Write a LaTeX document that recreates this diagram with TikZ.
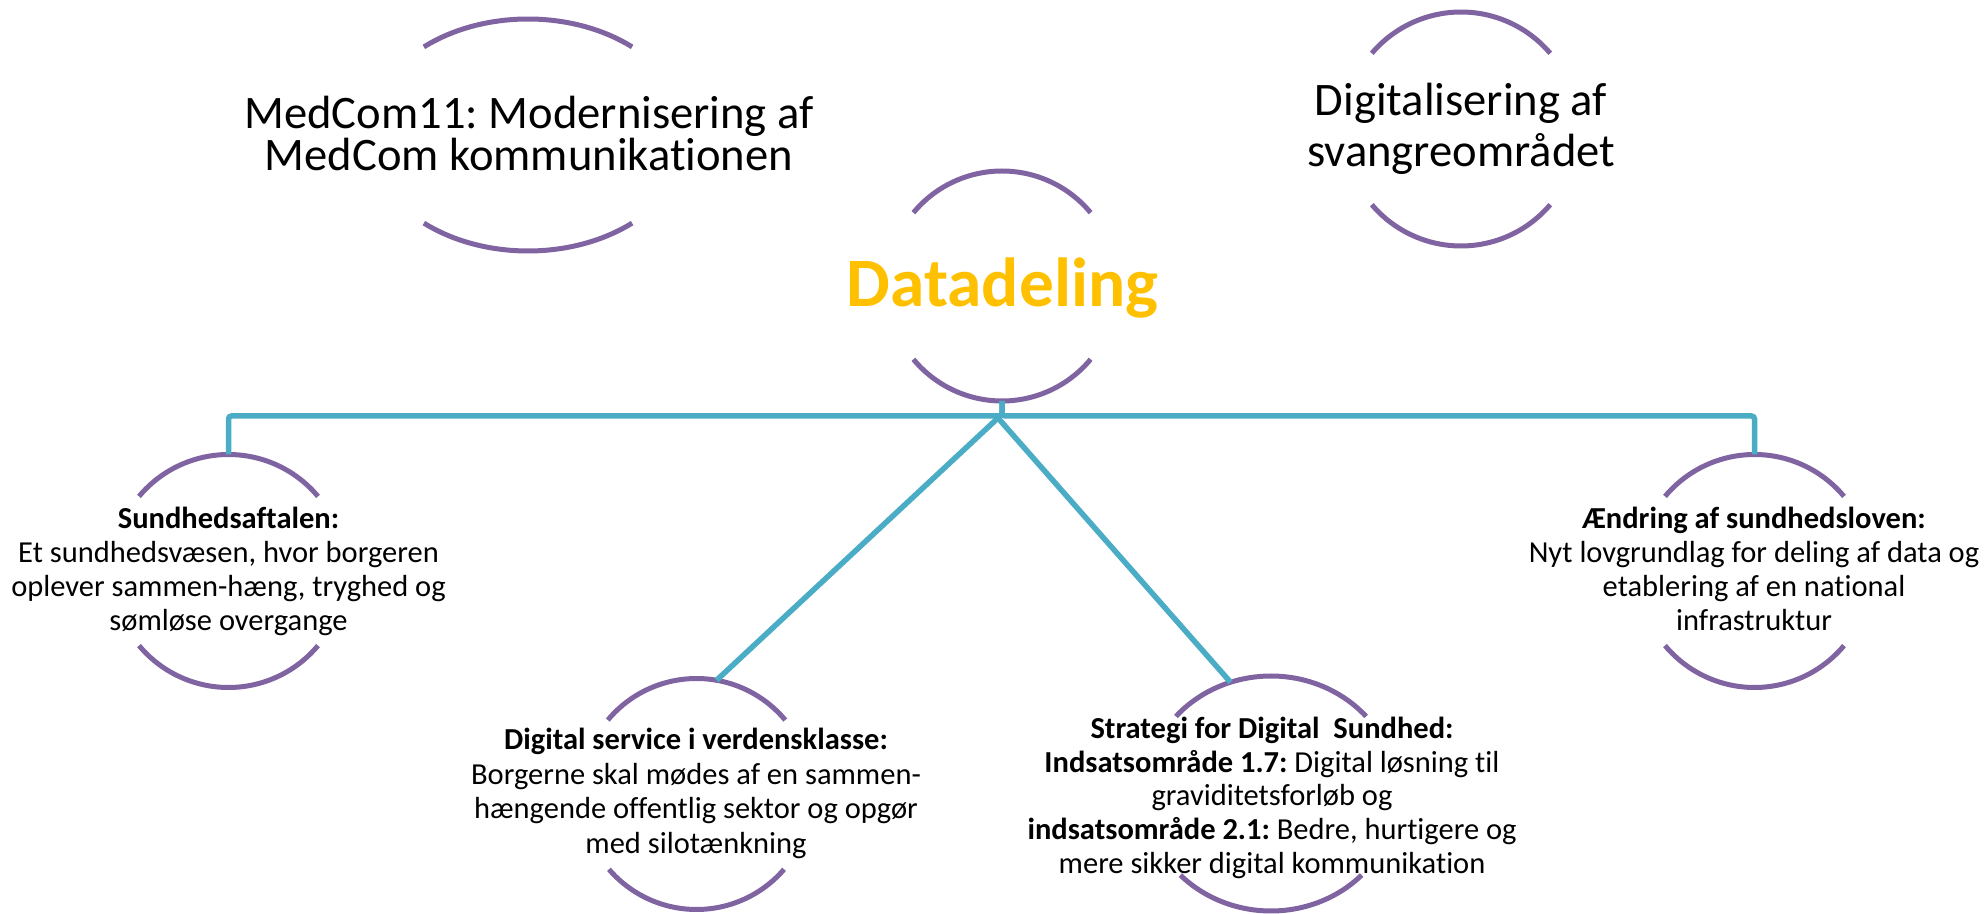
\documentclass[tikz,border=0pt]{standalone}
\usepackage{fontspec}
\setmainfont{Carlito}[Ligatures={NoCommon}]
\frenchspacing
\usetikzlibrary{shapes.geometric}
\definecolor{ringpurple}{HTML}{8064A2}
\definecolor{connteal}{HTML}{4BACC6}
\definecolor{ddgold}{HTML}{FFC000}
\tikzset{
  ringline/.style={draw=ringpurple, line width=5pt},
  conn/.style={draw=connteal, line width=5.5pt},
  ring/.style={draw=none, inner sep=0pt, outer sep=0pt},
  bigtext/.style={font=\fontsize{46.6}{42}\selectfont, align=center, anchor=base, inner sep=0pt},
  smalltext/.style={font=\fontsize{30.5}{34.2}\selectfont, align=center, anchor=base, inner sep=0pt},
  ddtext/.style={font=\bfseries\fontsize{69.4}{70}\selectfont, text=ddgold, anchor=base, inner sep=0pt},
}
\newcommand\ringarcs[5]{%
  \draw[ringline] ([shift={(#4:#2 and #3)}]#1.center) arc[start angle=#4, end angle={180-#4}, x radius=#2, y radius=#3];
  \draw[ringline] ([shift={(-#5:#2 and #3)}]#1.center) arc[start angle=-#5, end angle={-180+#5}, x radius=#2, y radius=#3];
}
\begin{document}
\begin{tikzpicture}[x=1pt, y=1pt]
\useasboundingbox (0,0) rectangle (1986,913);
% ring nodes
\node[ring, ellipse, minimum width=320pt, minimum height=232pt] (mc) at (528,778) {};
\node[ring, circle, minimum size=234pt] (dg) at (1461,784) {};
\node[ring, circle, minimum size=230pt] (dd) at (1002,627) {};
\node[ring, circle, minimum size=233pt] (sund) at (228.5,342) {};
\node[ring, circle, minimum size=233pt] (aend) at (1754.5,342) {};
\node[ring, circle, minimum size=231pt] (ds) at (696.5,119) {};
\node[ring, ellipse, minimum width=252pt, minimum height=235pt] (st) at (1271,119.5) {};
% arcs
\ringarcs{mc}{160}{116}{49.4}{49.4}
\ringarcs{dg}{117}{117}{40.3}{40.3}
\ringarcs{dd}{115}{115}{39.6}{39.6}
\ringarcs{sund}{116.5}{116.5}{39.8}{39.8}
\ringarcs{aend}{116.5}{116.5}{39.8}{39.8}
\ringarcs{ds}{115.5}{115.5}{39.8}{40.7}
\ringarcs{st}{126}{117.5}{41}{44}
% texts (anchor = baseline of last line)
\node[bigtext] (mcT) at (529,742.5) {MedCom11: Modernisering af\\MedCom kommunikationen};
\node[bigtext, font=\fontsize{46.6}{51}\selectfont] (dgT) at (1461,746.5) {Digitalisering af\\svangreområdet};
\node[ddtext] (ddT) at (1002.5,606.3) {Datadeling};
\node[smalltext] (sundT) at (228.5,282.3) {\textbf{Sundhedsaftalen:}\\Et sundhedsvæsen, hvor borgeren\\oplever sammen-hæng, tryghed og\\sømløse overgange};
\node[smalltext] (aendT) at (1754,282.3) {\textbf{Ændring af sundhedsloven:}\\Nyt lovgrundlag for deling af data og\\etablering af en national\\infrastruktur};
\node[smalltext, font=\fontsize{30.5}{34.5}\selectfont] (dsT) at (696,59.7) {\textbf{Digital service i verdensklasse:}\\Borgerne skal mødes af en sammen-\\hængende offentlig sektor og opgør\\med silotænkning};
\node[smalltext, font=\fontsize{30.5}{33.75}\selectfont] (stT) at (1272,39.7) {\textbf{Strategi for Digital~~Sundhed:}\\\textbf{Indsatsområde 1.7:} Digital løsning til\\graviditetsforløb og\\\textbf{indsatsområde 2.1:} Bedre, hurtigere og\\mere sikker digital kommunikation};
% connectors
\draw[conn, rounded corners=3pt] (dd.south) -- ++(0,-15) -| (sund.north);
\draw[conn, rounded corners=3pt] (dd.south) -- ++(0,-15) -| (aend.north);
\coordinate (hub) at (998,495);
\draw[conn] (hub) -- (ds.80.7);
\draw[conn] (hub) -- (st.110.3);
\end{tikzpicture}
\end{document}
